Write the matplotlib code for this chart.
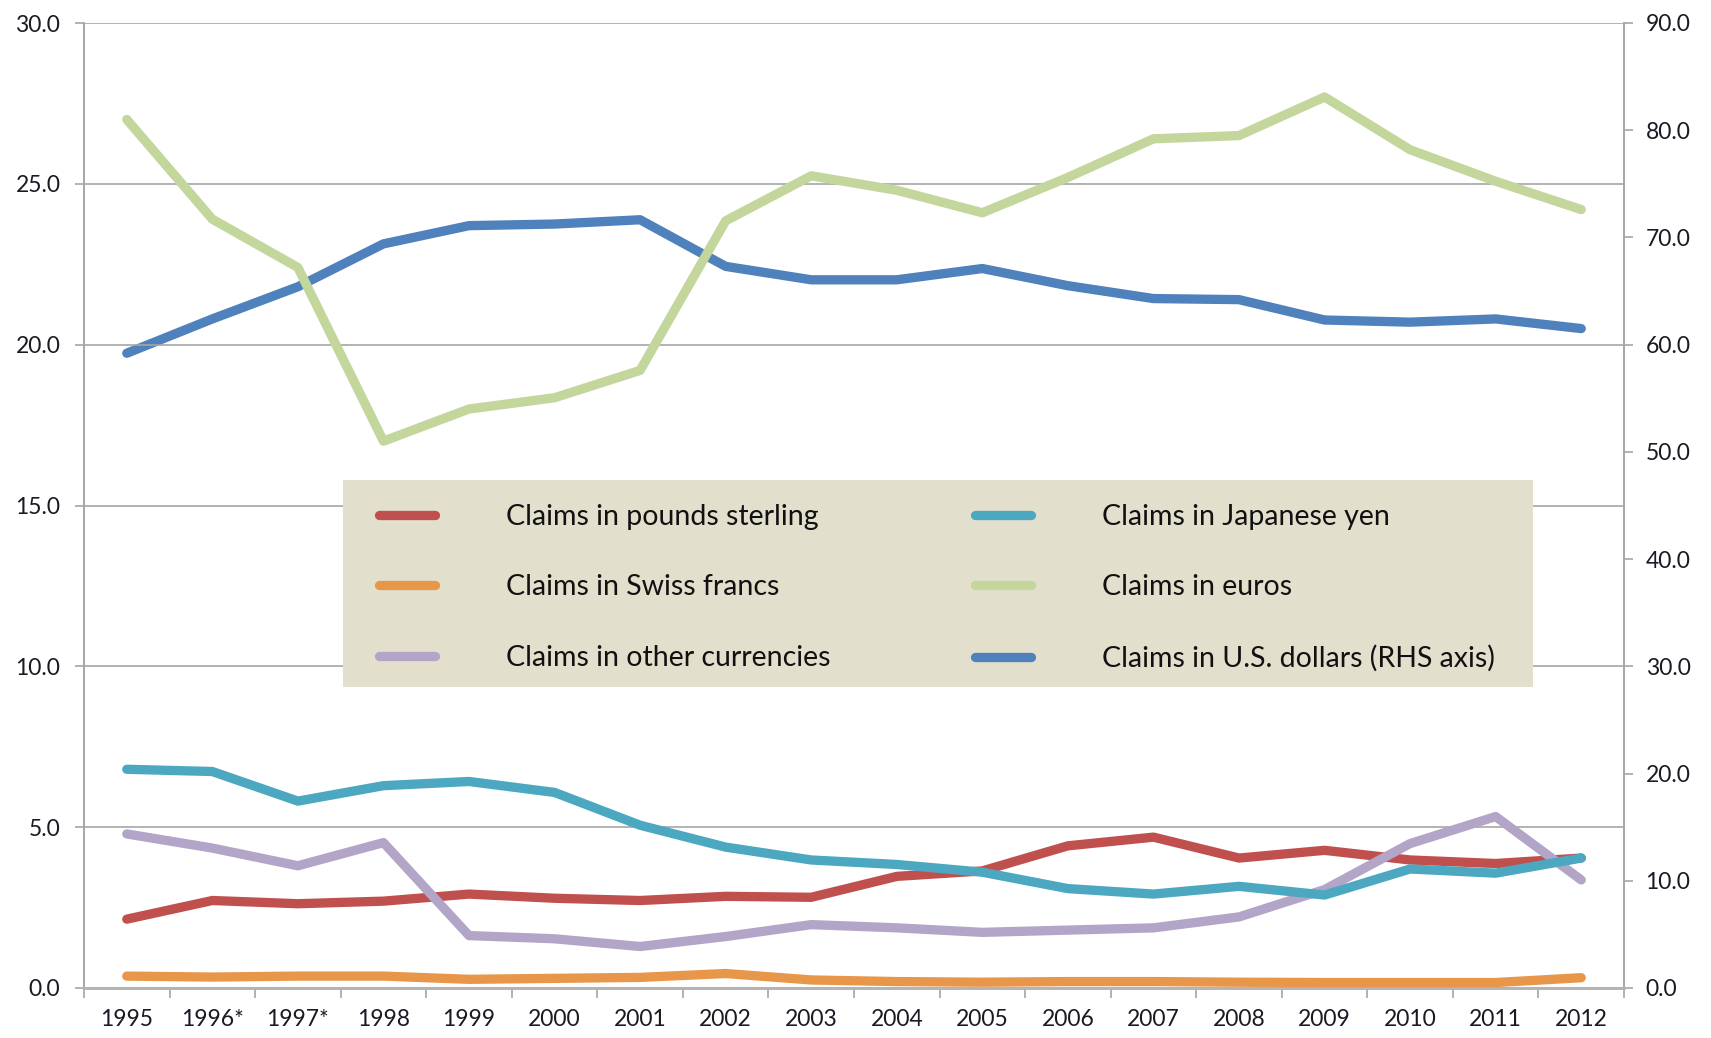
import matplotlib
matplotlib.use("Agg")
import matplotlib.pyplot as plt
from matplotlib.ticker import FixedLocator, FormatStrFormatter, NullFormatter
from matplotlib.patches import Rectangle
import numpy as np

plt.rcParams['font.family'] = ['Lato', 'DejaVu Sans']

years = ["1995", "1996*", "1997*", "1998", "1999", "2000", "2001", "2002", "2003",
         "2004", "2005", "2006", "2007", "2008", "2009", "2010", "2011", "2012"]

gbp = [2.14, 2.72, 2.62, 2.70, 2.92, 2.79, 2.72, 2.85, 2.82, 3.47, 3.64, 4.42, 4.69, 4.04, 4.28, 3.98, 3.87, 4.04]
chf = [0.37, 0.34, 0.37, 0.37, 0.27, 0.30, 0.33, 0.45, 0.25, 0.20, 0.18, 0.20, 0.20, 0.18, 0.17, 0.17, 0.17, 0.32]
other = [4.79, 4.35, 3.80, 4.52, 1.63, 1.53, 1.29, 1.60, 1.97, 1.87, 1.73, 1.80, 1.87, 2.21, 3.06, 4.49, 5.33, 3.36]
jpy = [6.80, 6.73, 5.81, 6.29, 6.42, 6.08, 5.06, 4.38, 3.98, 3.84, 3.60, 3.09, 2.92, 3.16, 2.89, 3.70, 3.57, 4.04]
eur = [27.0, 23.9, 22.4, 17.0, 18.0, 18.35, 19.2, 23.85, 25.25, 24.8, 24.1, 25.2, 26.4, 26.5, 27.7, 26.06, 25.08, 24.2]
usd = [59.2, 62.4, 65.4, 69.4, 71.1, 71.25, 71.65, 67.3, 66.05, 66.05, 67.1, 65.5, 64.3, 64.2, 62.3, 62.1, 62.4, 61.5]

labels = ["Claims in pounds sterling", "Claims in Swiss francs", "Claims in other currencies",
          "Claims in Japanese yen", "Claims in euros", "Claims in U.S. dollars (RHS axis)"]
colors = ["#C0504D", "#E8964A", "#B3A5C8", "#4BA8C0", "#C3D69B", "#4F81BD"]

W, H = 1711, 1038
fig = plt.figure(figsize=(W / 100, H / 100), dpi=100)
ax = fig.add_axes([84 / W, 1 - 988 / H, (1624 - 84) / W, (988 - 23) / H])
ax2 = ax.twinx()

x = np.arange(len(years))
lw = 6.7
lines = []
for data, c, lab in [(gbp, colors[0], labels[0]), (chf, colors[1], labels[1]),
                     (other, colors[2], labels[2]), (jpy, colors[3], labels[3]),
                     (eur, colors[4], labels[4])]:
    ln, = ax.plot(x, data, color=c, lw=lw, solid_capstyle='round', solid_joinstyle='round', label=lab, zorder=3)
    lines.append(ln)
ln, = ax2.plot(x, usd, color=colors[5], lw=lw, solid_capstyle='round', solid_joinstyle='round', label=labels[5], zorder=3)
lines.append(ln)

ax.set_xlim(-0.5, len(years) - 0.5)
ax.set_ylim(0, 30)
ax2.set_ylim(0, 90)

ax.yaxis.set_major_locator(FixedLocator(np.arange(0, 30.1, 5)))
ax.yaxis.set_major_formatter(FormatStrFormatter('%.1f'))
ax2.yaxis.set_major_locator(FixedLocator(np.arange(0, 90.1, 10)))
ax2.yaxis.set_major_formatter(FormatStrFormatter('%.1f'))

ax.xaxis.set_major_locator(FixedLocator(np.arange(-0.5, len(years), 1.0)))
ax.xaxis.set_major_formatter(NullFormatter())
ax.xaxis.set_minor_locator(FixedLocator(x))
ax.set_xticklabels(years, minor=True)

gridc = "#A6A6A6"
ax.grid(axis='y', color=gridc, lw=1.2, zorder=0)
ax.set_axisbelow(True)
for a in (ax, ax2):
    a.spines['top'].set_visible(False)
    a.spines['left'].set_color(gridc)
    a.spines['right'].set_color(gridc)
    a.spines['bottom'].set_color("#B5B5B5")
    a.spines['left'].set_linewidth(1.2)
    a.spines['right'].set_linewidth(1.2)
    a.spines['bottom'].set_linewidth(2.0)

tc = "#1A1A24"
ax.tick_params(axis='y', which='major', direction='out', length=6.5, width=1.2, color=gridc,
               labelsize=16.5, labelcolor=tc, pad=10.5)
ax2.tick_params(axis='y', which='major', direction='out', length=6.5, width=1.2, color=gridc,
                labelsize=16.5, labelcolor=tc, pad=9)
ax.tick_params(axis='x', which='major', direction='out', length=7, width=1.2, color=gridc)
ax.tick_params(axis='x', which='minor', length=0, labelsize=16.5, labelcolor=tc, pad=15)

ax.set_zorder(ax2.get_zorder() + 1)
ax.patch.set_visible(False)

# legend background box
bg = Rectangle((343 / W, 1 - 687 / H), (1533 - 343) / W, (687 - 480) / H,
               transform=fig.transFigure, facecolor="#E2DFCC", edgecolor="none",
               zorder=9, clip_on=False)
ax.add_patch(bg)

leg = ax.legend(handles=lines, loc='upper left', bbox_to_anchor=(379 / W, 1 - 504 / H),
                bbox_transform=fig.transFigure, ncol=2, frameon=False,
                fontsize=20.5, handlelength=1.95, handletextpad=2.5, columnspacing=5.1,
                labelspacing=1.56, borderpad=0, borderaxespad=0)
for t in leg.get_texts():
    t.set_color("#111111")
leg.set_zorder(10)

fig.savefig("out.png", dpi=100)
